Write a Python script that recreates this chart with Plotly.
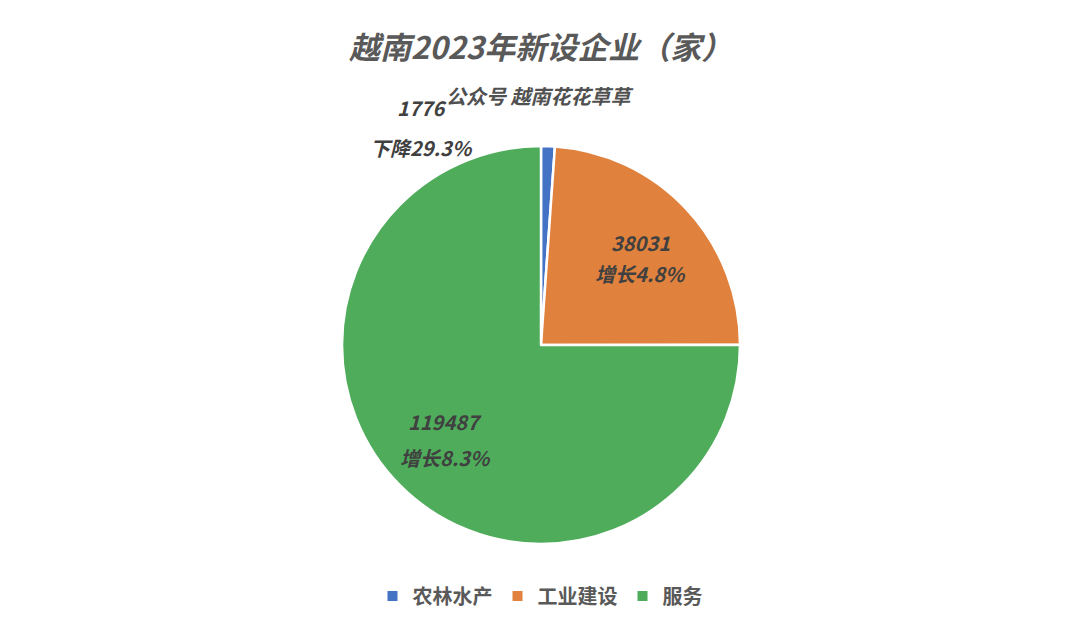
import plotly.graph_objects as go

# 2023 new enterprises in Vietnam by sector
sectors = ["农林水产", "工业建设", "服务"]
counts = [1776, 38031, 119487]
changes = ["下降29.3%", "增长4.8%", "增长8.3%"]
colors = ["#4472C4", "#E0823D", "#4EAC5B"]

title_text = "越南2023年新设企业（家）"
subtitle_text = "公众号 越南花花草草"

FONT = "Noto Sans CJK SC"
W, H = 1080, 628

fig = go.Figure(
    go.Pie(
        labels=sectors,
        values=counts,
        sort=False,
        direction="clockwise",
        rotation=0,
        textinfo="none",
        hoverinfo="label+value",
        marker=dict(colors=colors, line=dict(color="white", width=2.5)),
        domain=dict(x=[(541 - 199) / W, (541 + 199) / W],
                    y=[1 - 544 / H, 1 - 146 / H]),
    )
)


def text_note(x, y, text, size, color, weight="bold", italic=True):
    body = f"<i>{text}</i>" if italic else text
    return dict(
        x=x / W, y=1 - y / H, xref="paper", yref="paper",
        xanchor="center", yanchor="middle",
        text=body, showarrow=False, align="center",
        font=dict(family=FONT, size=size, color=color, weight=weight),
    )


# value / change labels: (x, y of value line, y of change line)
label_pos = [(421, 108, 147), (640, 242, 273), (445, 421, 458)]
annotations = []
for (x, y1, y2), n, c in zip(label_pos, counts, changes):
    annotations.append(text_note(x, y1, str(n), 20, "#404040"))
    annotations.append(text_note(x, y2, c, 20, "#404040"))

annotations.append(text_note(540, 45, title_text, 31, "#595959"))
annotations.append(text_note(540, 96, subtitle_text, 20, "#505050"))

fig.update_layout(
    width=W, height=H,
    margin=dict(l=0, r=0, t=0, b=0),
    paper_bgcolor="white",
    plot_bgcolor="white",
    annotations=annotations,
    showlegend=True,
    legend=dict(
        orientation="h", x=0.5, xanchor="center", y=1 - 596 / H, yanchor="middle",
        font=dict(family=FONT, size=20, color="#595959", weight="bold"),
        itemsizing="constant", traceorder="normal",
    ),
)

fig.write_html("out.html")
